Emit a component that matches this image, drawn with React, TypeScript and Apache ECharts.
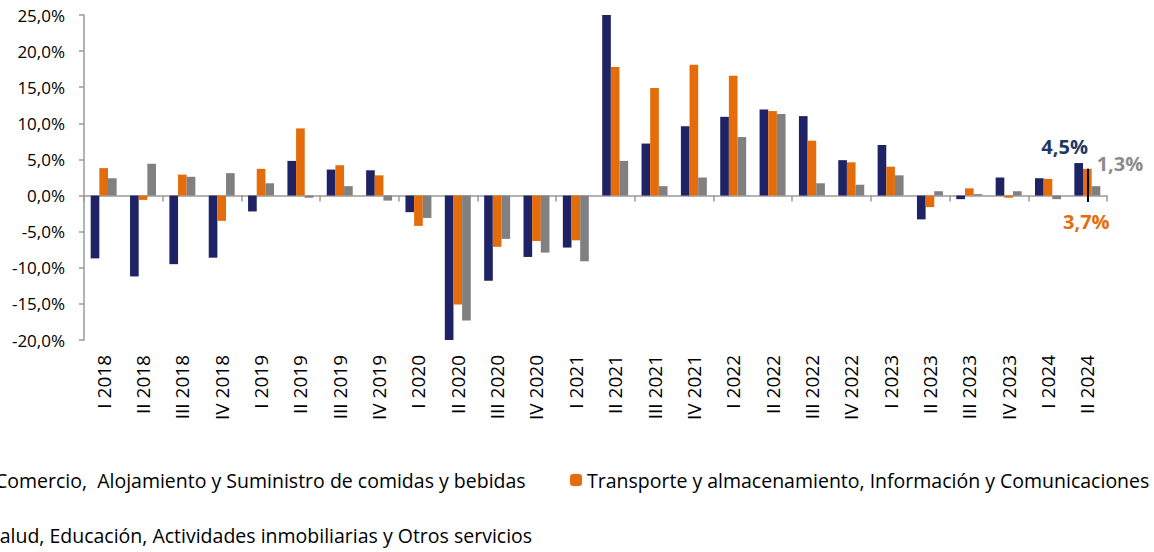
import React, { useEffect, useRef } from "react";
import * as echarts from "echarts";

const categories = [
  "I 2018", "II 2018", "III 2018", "IV 2018",
  "I 2019", "II 2019", "III 2019", "IV 2019",
  "I 2020", "II 2020", "III 2020", "IV 2020",
  "I 2021", "II 2021", "III 2021", "IV 2021",
  "I 2022", "II 2022", "III 2022", "IV 2022",
  "I 2023", "II 2023", "III 2023", "IV 2023",
  "I 2024", "II 2024",
];

const seriesNames = [
  "Comercio,  Alojamiento y Suministro de comidas y bebidas",
  "Transporte y almacenamiento, Información y Comunicaciones",
  "Salud, Educación, Actividades inmobiliarias y Otros servicios",
];

const comercio = [
  -8.7, -11.2, -9.5, -8.6, -2.2, 4.8, 3.6, 3.5,
  -2.3, -20.3, -11.8, -8.5, -7.2, 25.0, 7.2, 9.6,
  10.9, 11.9, 11.0, 4.9, 7.0, -3.3, -0.5, 2.5,
  2.4, 4.5,
];
const transporte = [
  3.8, -0.6, 2.9, -3.5, 3.7, 9.3, 4.2, 2.8,
  -4.2, -15.1, -7.1, -6.3, -6.2, 17.8, 14.9, 18.1,
  16.6, 11.7, 7.6, 4.6, 4.0, -1.6, 1.0, -0.3,
  2.3, 3.7,
];
const salud = [
  2.4, 4.4, 2.6, 3.1, 1.7, -0.3, 1.3, -0.7,
  -3.1, -17.3, -6.0, -7.9, -9.1, 4.8, 1.3, 2.5,
  8.1, 11.3, 1.7, 1.5, 2.8, 0.6, 0.2, 0.6,
  -0.5, 1.3,
];

const colors = ["#1f2264", "#e46c0a", "#808080"];
const labelColors = ["#1f3864", "#e46c0a", "#8c8c8c"];
const FONT = "Open Sans";

function fmt(v: number) {
  return v.toFixed(1).replace(".", ",") + "%";
}

export default function App() {
  const ref = useRef<HTMLDivElement>(null);

  useEffect(() => {
    if (!ref.current) return;
    const chart = echarts.init(ref.current, undefined, { renderer: "svg" });
    const last = categories.length - 1;

    const withLastLabel = (arr: number[], idx: number, label: any) =>
      arr.map((v, i) =>
        i === last
          ? {
              value: v,
              label: {
                show: true,
                formatter: fmt(v),
                color: labelColors[idx],
                fontWeight: "bold",
                fontSize: 20,
                fontFamily: FONT,
                ...label,
              },
            }
          : v
      );

    const axisColor = "#9a9a9a";
    const legendText = { fontSize: 19.5, color: "#000", fontFamily: FONT };

    chart.setOption({
      animation: false,
      textStyle: { fontFamily: FONT },
      grid: { left: 84, right: 47, top: 15, bottom: 212 },
      legend: [
        {
          data: [seriesNames[0]],
          left: -22,
          top: 470,
          padding: 0,
          itemWidth: 12,
          itemHeight: 12,
          selectedMode: false,
          textStyle: legendText,
        },
        {
          data: [seriesNames[1]],
          left: 570,
          top: 470,
          padding: 0,
          itemWidth: 12,
          itemHeight: 12,
          selectedMode: false,
          textStyle: legendText,
        },
        {
          data: [seriesNames[2]],
          left: -28,
          top: 525,
          padding: 0,
          itemWidth: 12,
          itemHeight: 12,
          selectedMode: false,
          textStyle: legendText,
        },
      ],
      xAxis: [
        {
          type: "category",
          data: categories,
          axisLine: { onZero: true, lineStyle: { color: axisColor, width: 1.5 } },
          axisTick: { show: true, length: 6, lineStyle: { color: axisColor, width: 1.5 } },
          axisLabel: { show: false },
        },
        {
          type: "category",
          data: categories,
          position: "bottom",
          axisLine: { show: false, onZero: false },
          axisTick: { show: false },
          axisLabel: {
            rotate: 90,
            margin: 15,
            fontSize: 19,
            color: "#000",
            fontFamily: FONT,
            interval: 0,
          },
        },
      ],
      yAxis: {
        type: "value",
        min: -20,
        max: 25,
        interval: 5,
        splitLine: { show: false },
        axisLine: { show: true, lineStyle: { color: axisColor, width: 1.5 } },
        axisTick: { show: true, length: 5, lineStyle: { color: axisColor, width: 1.5 } },
        axisLabel: {
          formatter: (v: number) => fmt(v),
          fontSize: 17,
          color: "#000",
          fontFamily: FONT,
          margin: 19,
        },
      },
      series: [
        {
          name: seriesNames[0],
          type: "bar",
          xAxisIndex: 0,
          data: withLastLabel(comercio, 0, { position: "top", offset: [-14, -2] }),
          itemStyle: { color: colors[0] },
          barGap: "0%",
          barCategoryGap: "34%",
        },
        {
          name: seriesNames[1],
          type: "bar",
          xAxisIndex: 0,
          data: withLastLabel(transporte, 1, { position: "bottom", offset: [-1, 11] }),
          itemStyle: { color: colors[1] },
          barGap: "0%",
          barCategoryGap: "34%",
          markLine: {
            silent: true,
            symbol: ["none", "none"],
            label: { show: false },
            lineStyle: { color: "#000", width: 2, type: "solid" },
            data: [
              [
                { coord: [categories[last], transporte[last]] },
                { coord: [categories[last], -0.9] },
              ],
            ],
          },
        },
        {
          name: seriesNames[2],
          type: "bar",
          xAxisIndex: 0,
          data: withLastLabel(salud, 2, { position: "top", offset: [24, -8] }),
          itemStyle: { color: colors[2] },
          barGap: "0%",
          barCategoryGap: "34%",
        },
      ],
    });

    return () => chart.dispose();
  }, []);

  return (
    <div
      ref={ref}
      style={{ position: "fixed", left: 0, top: 0, width: 1154, height: 552, background: "#fff" }}
    />
  );
}
